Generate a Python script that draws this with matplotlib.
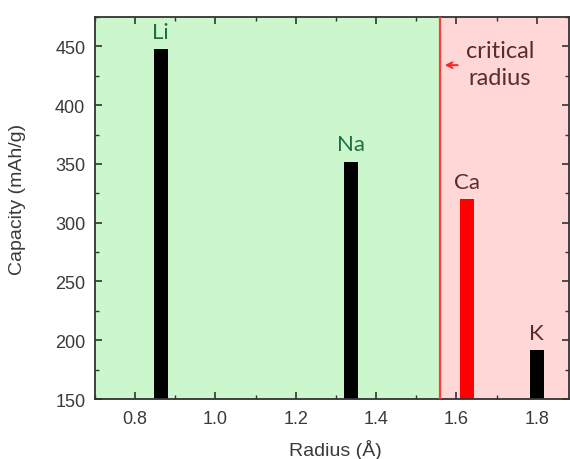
import matplotlib
matplotlib.use("Agg")
import matplotlib.pyplot as plt
from matplotlib.ticker import MultipleLocator, FormatStrFormatter

elements = ["Li", "Na", "Ca", "K"]
radius = [0.864, 1.338, 1.627, 1.80]
capacity = [448, 352, 320, 192]
bar_colors = ["black", "black", "#ff0000", "black"]
label_colors = ["#1f6e45", "#1f6e45", "#5a2c2c", "#5a2c2c"]
critical_radius = 1.56
xlim = (0.7, 1.88)
ylim = (150, 475)

plt.rcParams["font.family"] = ["Liberation Sans", "DejaVu Sans"]

fig = plt.figure(figsize=(5.7, 4.6), dpi=100)
ax = fig.add_axes([0.1667, 0.1304, 0.8313, 0.8306])

ax.axvspan(xlim[0], critical_radius, color="#ccf7cc", zorder=0, lw=0)
ax.axvspan(critical_radius, xlim[1], color="#ffd7d7", zorder=0, lw=0)
ax.axvline(critical_radius, color="#ff3b3b", lw=1.6, zorder=3)

ax.bar(radius, [c - ylim[0] for c in capacity], bottom=ylim[0], width=0.036,
       color=bar_colors, zorder=2)

for name, x, c, col in zip(elements, radius, capacity, label_colors):
    ax.text(x, c + 6, name, ha="center", va="bottom", fontsize=16,
            color=col, zorder=4, family=["Lato", "DejaVu Sans"])

ax.text(1.708, 435, "critical\nradius", ha="center", va="center",
        fontsize=17, color="#5a2c2c", linespacing=1.4, zorder=4,
        family=["Lato", "DejaVu Sans"])
ax.annotate("", xy=(critical_radius + 0.004, 434),
            xytext=(critical_radius + 0.05, 434),
            arrowprops=dict(arrowstyle="->", color="#ff2020", lw=1.4))

ax.set_xlim(*xlim)
ax.set_ylim(*ylim)
ax.xaxis.set_major_locator(MultipleLocator(0.2))
ax.xaxis.set_minor_locator(MultipleLocator(0.1))
ax.yaxis.set_major_locator(MultipleLocator(50))
ax.yaxis.set_minor_locator(MultipleLocator(25))
ax.tick_params(which="both", direction="in", top=True, right=True,
               color="#333333", labelcolor="#3a3a3a", labelsize=13)
ax.tick_params(axis="y", which="major", pad=7)
ax.tick_params(axis="x", which="major", pad=8)
ax.tick_params(which="major", length=5, width=1.2)
ax.tick_params(which="minor", length=3, width=1.0)
ax.xaxis.set_major_formatter(FormatStrFormatter("%.1f"))
for s in ax.spines.values():
    s.set_color("#333333")
    s.set_linewidth(1.3)

ax.set_xlabel("Radius (Å)", fontsize=14, color="#3a3a3a")
ax.set_ylabel("Capacity (mAh/g)", fontsize=14, color="#3a3a3a")
ax.xaxis.label.set_verticalalignment("center")
ax.yaxis.label.set_verticalalignment("center")
ax.xaxis.set_label_coords(0.507, -0.131)
ax.yaxis.set_label_coords(-0.164, 0.526)

fig.savefig("out.png", dpi=100)
